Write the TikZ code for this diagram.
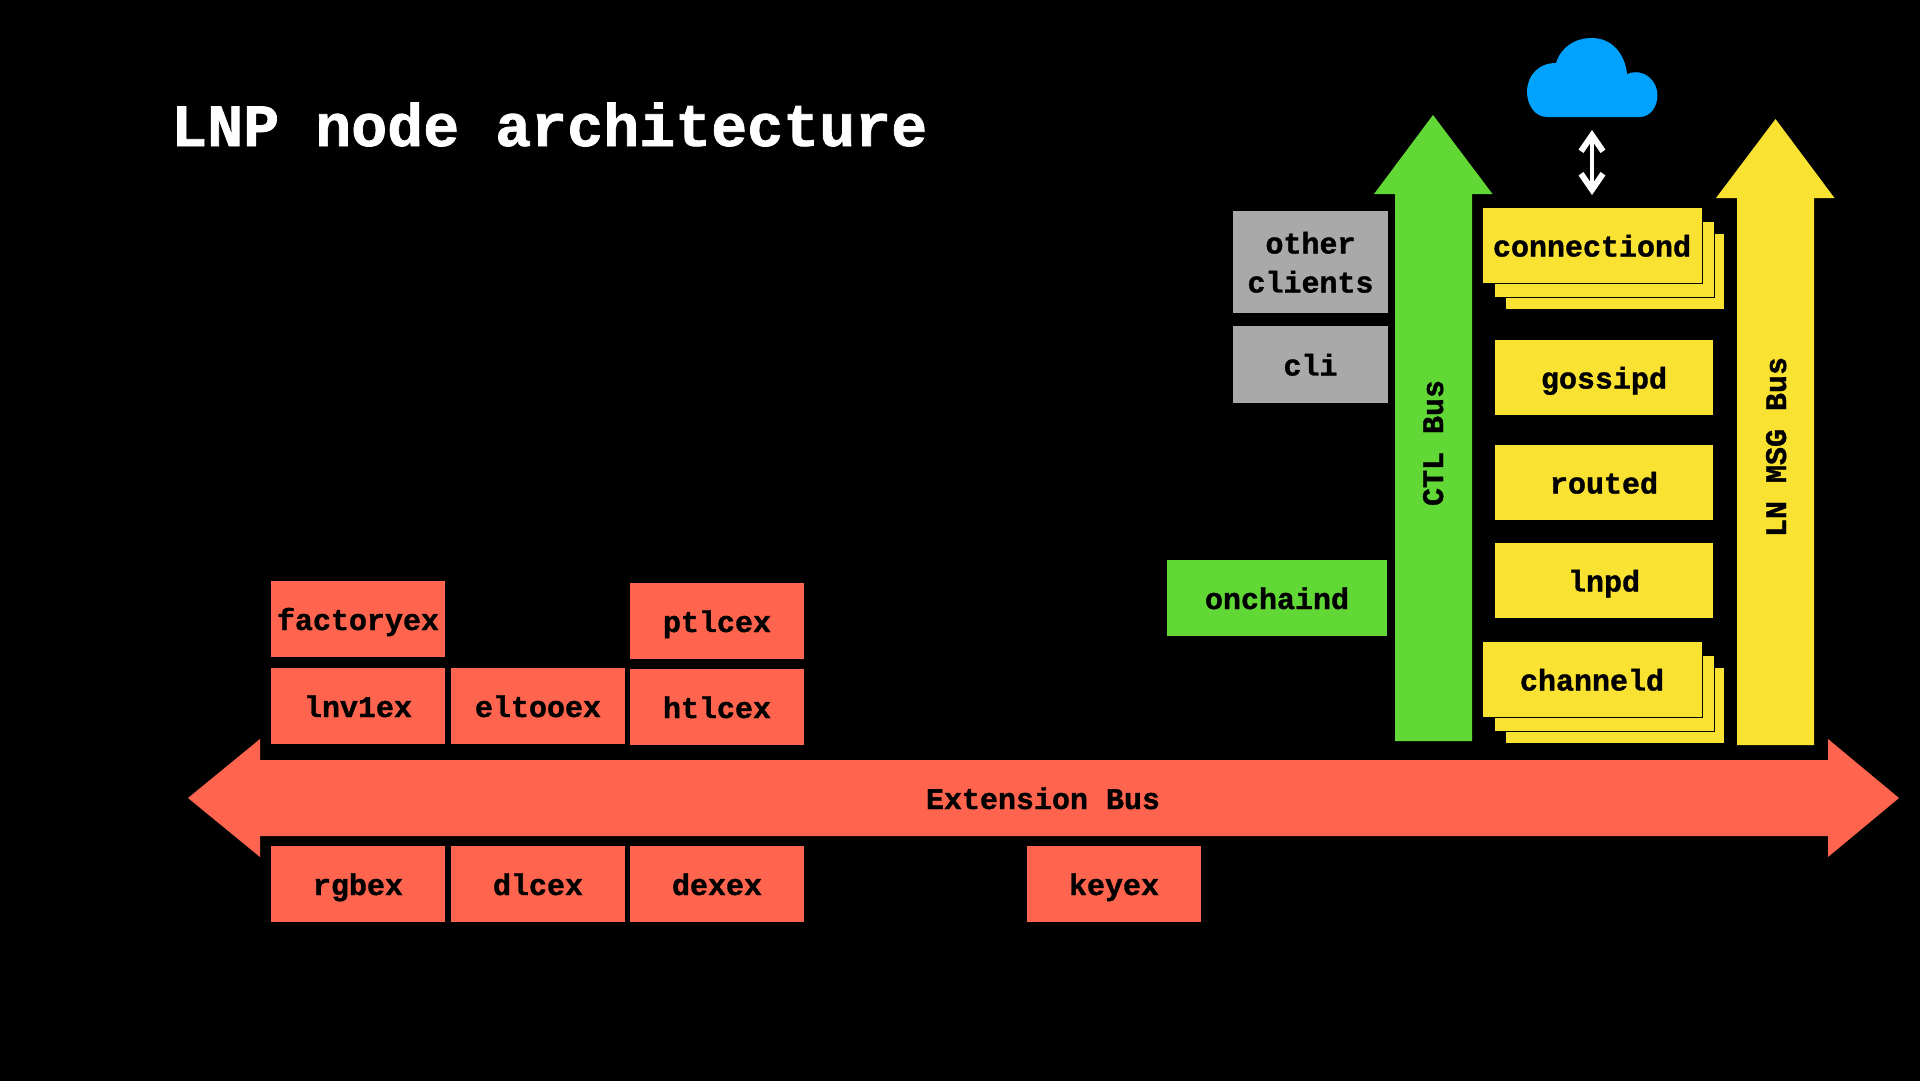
\documentclass[tikz,border=0pt]{standalone}
\usepackage{fontspec}
\setmonofont[BoldFeatures={FakeBold=1.2}]{Liberation Mono}
\usetikzlibrary{arrows.meta}
\definecolor{extred}{HTML}{FF644E}
\definecolor{ctlgreen}{HTML}{61D836}
\definecolor{msgyellow}{HTML}{FAE232}
\definecolor{cligray}{HTML}{A9A9A9}
\definecolor{cloudblue}{HTML}{00A2FF}

\begin{document}
\begin{tikzpicture}[x=1pt, y=-1pt,
    >={Straight Barb[length=16pt, width=22pt, line width=6pt]},
    daemon/.style={inner sep=0pt, text=black, align=center,
      text height=28pt, text depth=6pt,
      font=\ttfamily\bfseries\fontsize{30}{39}\selectfont},
    extbox/.style={daemon, fill=extred, minimum width=174pt, minimum height=76pt},
    yellowbox/.style={daemon, fill=msgyellow, minimum width=218pt, minimum height=75pt},
    stacked/.style={yellowbox, draw=black, line width=1pt,
      minimum width=220pt, minimum height=76pt}]
  \useasboundingbox (0, 0) rectangle (1920, 1080);
  \fill[black] (-2, -2) rectangle (1922, 1082);

  \node[font=\ttfamily\bfseries\fontsize{60}{72}\selectfont, text=white,
        anchor=base west, inner sep=0pt] (title) at (171, 146) {LNP node architecture};

  % extension bus
  \fill[extred] (188, 798) -- (260, 739) -- (260, 760) -- (1828, 760) -- (1828, 739)
    -- (1899, 798) -- (1828, 857) -- (1828, 836) -- (260, 836) -- (260, 857) -- cycle;
  \node[daemon] (extbus) at (1043, 798) {Extension Bus};

  % ctl bus
  \fill[ctlgreen] (1433, 115) -- (1492.5, 194) -- (1472, 194) -- (1472, 741)
    -- (1395, 741) -- (1395, 194) -- (1374, 194) -- cycle;
  \node[daemon, rotate=90] (ctlbus) at (1432, 443) {CTL Bus};

  % msg bus
  \fill[msgyellow] (1775.5, 119) -- (1834.5, 198) -- (1814, 198) -- (1814, 745)
    -- (1737, 745) -- (1737, 198) -- (1716, 198) -- cycle;
  \node[daemon, rotate=90] (msgbus) at (1775, 447) {LN MSG Bus};

  % extensions
  \foreach \name/\x/\y in {factoryex/358/619, lnv1ex/358/706, eltooex/538/706,
      ptlcex/717/621, htlcex/717/707, rgbex/358/884, dlcex/538/884, dexex/717/884,
      keyex/1114/884}{
    \node[extbox] (\name) at (\x, \y) {\name};
  }

  % clients
  \node[daemon, fill=cligray, text height=67pt, minimum width=155pt, minimum height=102pt]
    (clients) at (1310.5, 262) {other\\clients};
  \node[daemon, fill=cligray, minimum width=155pt, minimum height=77pt]
    (cli) at (1310.5, 364.5) {cli};
  \node[daemon, fill=ctlgreen, minimum width=220pt, minimum height=76pt]
    (onchaind) at (1277, 598) {onchaind};

  % daemons
  \node[yellowbox] (connback) at (1615, 271.5) {};
  \node[stacked] (connmid) at (1604, 259) {};
  \node[stacked] (connectiond) at (1592, 245.5) {connectiond};
  \node[yellowbox] (gossipd) at (1604, 377.5) {gossipd};
  \node[yellowbox] (routed) at (1604, 482.5) {routed};
  \node[yellowbox] (lnpd) at (1604, 580.5) {lnpd};
  \node[yellowbox] (chanback) at (1615, 705.5) {};
  \node[stacked] (chanmid) at (1604, 693) {};
  \node[stacked] (channeld) at (1592, 679.5) {channeld};

  % cloud
  \fill[cloudblue] (1547, 117) .. controls (1535, 117) and (1527, 105) .. (1527, 92)
    .. controls (1527, 76) and (1538, 63) .. (1556, 63)
    .. controls (1561, 47) and (1575, 38) .. (1592, 38)
    .. controls (1612, 38) and (1625, 54) .. (1627, 74)
    .. controls (1645, 67) and (1657.5, 82) .. (1657.5, 95)
    .. controls (1657.5, 107) and (1650, 117) .. (1640, 117) -- cycle;
  \coordinate (cloudbase) at (1592, 117);
  \draw[<->, white, line width=4.5pt, shorten <=13pt, shorten >=12pt]
    (cloudbase) -- (connectiond.north);
\end{tikzpicture}
\end{document}
